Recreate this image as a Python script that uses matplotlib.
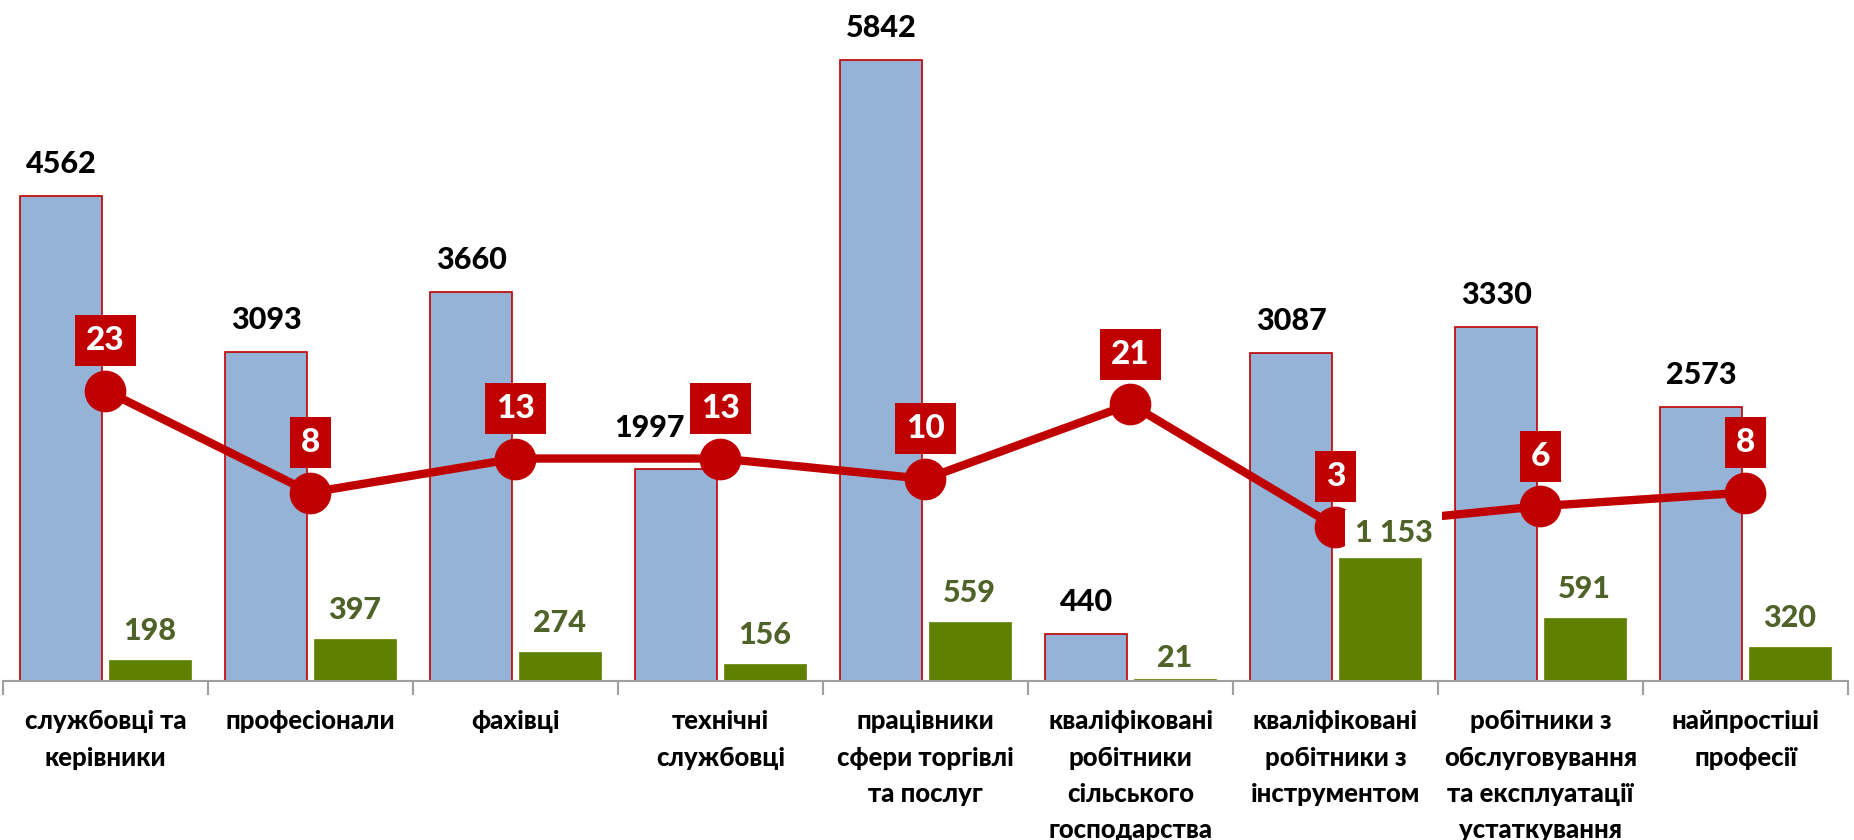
import matplotlib
matplotlib.use("Agg")
import matplotlib.pyplot as plt
import numpy as np
from matplotlib.ticker import FixedLocator, NullFormatter

plt.rcParams['font.family'] = ['Lato', 'DejaVu Sans']
WEIGHT = 900

categories = [
    "службовці та\nкерівники",
    "професіонали",
    "фахівці",
    "технічні\nслужбовці",
    "працівники\nсфери торгівлі\nта послуг",
    "кваліфіковані\nробітники\nсільського\nгосподарства",
    "кваліфіковані\nробітники з\nінструментом",
    "робітники з\nобслуговування\nта експлуатації\nустаткування",
    "найпростіші\nпрофесії",
]
blue_values = [4562, 3093, 3660, 1997, 5842, 440, 3087, 3330, 2573]
green_values = [198, 397, 274, 156, 559, 21, 1153, 591, 320]
green_labels = ["198", "397", "274", "156", "559", "21", "1 153", "591", "320"]
line_values = [23, 8, 13, 13, 10, 21, 3, 6, 8]

BLUE = '#95B3D7'
RED = '#C00000'
GREEN = '#5F8000'
GREEN_TXT = '#4F6228'
PT = 0.72  # points per pixel at dpi 100

W, H = 1854, 840
fig = plt.figure(figsize=(W / 100, H / 100), dpi=100)
ax = fig.add_axes([3 / W, (H - 681) / H, (1848 - 3) / W, 681 / H])
ax2 = ax.twinx()

x = np.arange(len(categories))
bw = 0.4
off = 0.215
ax.bar(x - off, blue_values, bw, color=BLUE, edgecolor=RED, linewidth=1.2, zorder=2)
ax.bar(x + off, green_values, bw, color=GREEN, edgecolor=GREEN, linewidth=0.5, zorder=2)

ax.set_xlim(-0.5, len(categories) - 0.5)
ax.set_ylim(0, 6406)
ax2.set_ylim(-19.7, 80.4)

for a in (ax, ax2):
    for s in ('top', 'right', 'left'):
        a.spines[s].set_visible(False)
    a.set_yticks([])
ax2.spines['bottom'].set_visible(False)
ax.spines['bottom'].set_color('#A0A0A0')
ax.spines['bottom'].set_linewidth(1.5)
ax.spines['bottom'].set_zorder(3)

ax.xaxis.set_major_locator(FixedLocator(np.arange(-0.5, len(categories), 1.0)))
ax.xaxis.set_major_formatter(NullFormatter())
ax.tick_params(axis='x', which='major', length=10, width=1.5, color='#A0A0A0', direction='out')

# category labels, one text per line so the line pitch matches
for xi, cat in zip(x, categories):
    for j, line in enumerate(cat.split("\n")):
        ax.annotate(line, xy=(xi, 0), xycoords=('data', 'axes fraction'),
                    xytext=(0, -(48 + 36.5 * j) * PT), textcoords='offset points',
                    ha='center', va='baseline', fontsize=18.5, fontweight=WEIGHT,
                    color='black', annotation_clip=False)

ax2.plot(x, line_values, color=RED, linewidth=6, marker='o', markersize=29,
         markerfacecolor=RED, markeredgecolor=RED, zorder=3)

# bar labels (drawn on ax2 so they appear above the line)
blue_shift = {3: (-27, 32)}
for i, (xi, v) in enumerate(zip(x, blue_values)):
    dx, dy = blue_shift.get(i, (0, 23))
    ax2.annotate(str(v), xy=(xi - off, v), xycoords=ax.transData,
                 xytext=(dx * PT, dy * PT), textcoords='offset points',
                 ha='center', va='baseline', fontsize=22, fontweight=WEIGHT,
                 color='black', zorder=5)
green_shift = {5: (0, 12), 6: (14, 16)}
for i, (xi, v, lab) in enumerate(zip(x, green_values, green_labels)):
    dx, dy = green_shift.get(i, (0, 20))
    kw = {}
    if lab == "1 153":
        kw['bbox'] = dict(boxstyle='square,pad=0.3', facecolor='white', edgecolor='none')
    ax2.annotate(lab, xy=(xi + off, v), xycoords=ax.transData,
                 xytext=(dx * PT, dy * PT), textcoords='offset points',
                 ha='center', va='baseline', fontsize=22, fontweight=WEIGHT,
                 color=GREEN_TXT, zorder=5, **kw)

for xi, v in zip(x, line_values):
    ax2.annotate(str(v), xy=(xi, v), xytext=(0, 50 * PT), textcoords='offset points',
                 ha='center', va='center', fontsize=24, fontweight=WEIGHT,
                 color='white', zorder=6,
                 bbox=dict(boxstyle='square,pad=0.33', facecolor=RED, edgecolor='none'))

fig.savefig('out.png', dpi=100)
